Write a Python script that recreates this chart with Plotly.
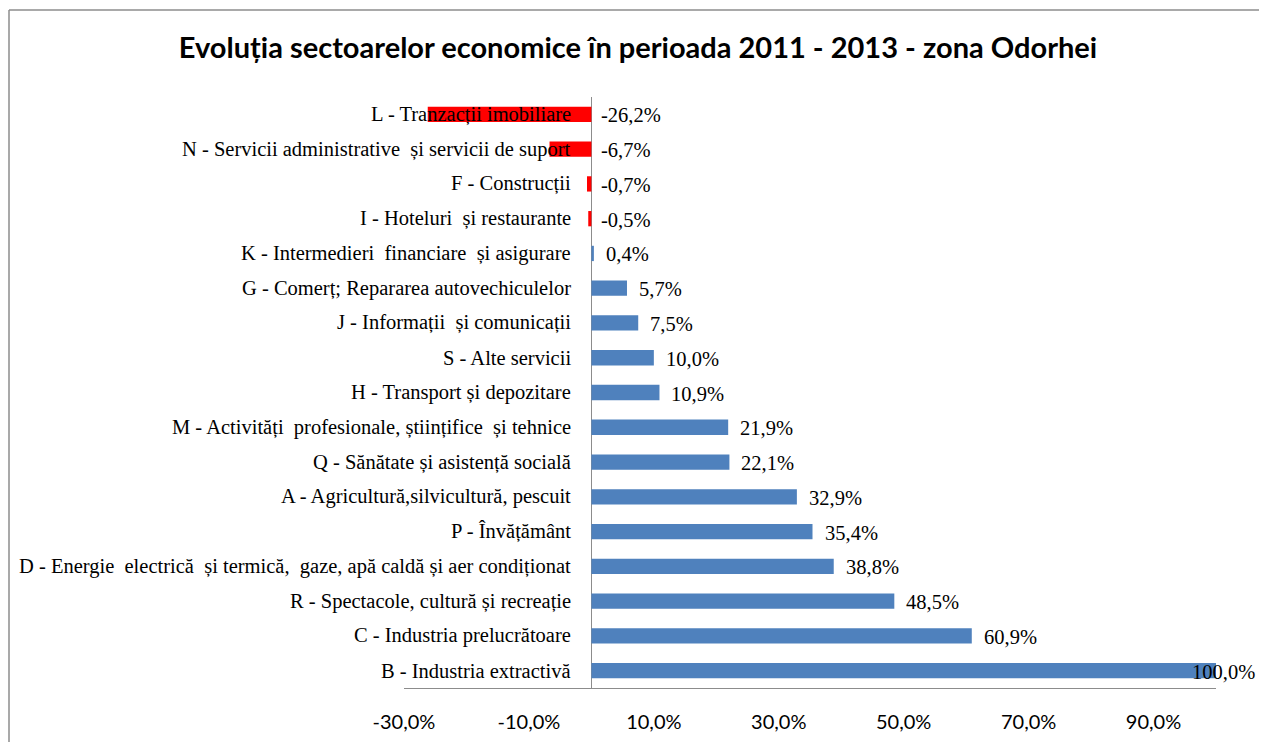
import plotly.graph_objects as go

# sectors, top to bottom as in the chart
sectors = [
    "L - Tranzacții imobiliare",
    "N - Servicii administrative  și servicii de suport",
    "F - Construcții",
    "I - Hoteluri  și restaurante",
    "K - Intermedieri  financiare  și asigurare",
    "G - Comerț; Repararea autovechiculelor",
    "J - Informații  și comunicații",
    "S - Alte servicii",
    "H - Transport și depozitare",
    "M - Activități  profesionale, științifice  și tehnice",
    "Q - Sănătate și asistență socială",
    "A - Agricultură,silvicultură, pescuit",
    "P - Învățământ",
    "D - Energie  electrică  și termică,  gaze, apă caldă și aer condiționat",
    "R - Spectacole, cultură și recreație",
    "C - Industria prelucrătoare",
    "B - Industria extractivă",
]
change_pct = [-26.2, -6.7, -0.7, -0.5, 0.4, 5.7, 7.5, 10.0, 10.9,
              21.9, 22.1, 32.9, 35.4, 38.8, 48.5, 60.9, 100.0]
tick_vals = [-30, -10, 10, 30, 50, 70, 90]
tick_text = ["-30,0%", "-10,0%", "10,0%", "30,0%", "50,0%", "70,0%", "90,0%"]

BLUE = "#4F81BD"
RED = "#FF0000"
GREY = "#8C8C8C"
SERIF = "Liberation Serif"
SANS = "Lato"

# the page body adds an 8px offset on the left/top
W, H = 1267, 734
L_M, R_M, T_M, B_M = 396, 59, 89, 54
PLOT_W = W - L_M - R_M
PLOT_H = H - T_M - B_M


def fmt(v):
    return f"{v:.1f}".replace(".", ",") + "%"


colors = [RED if v < 0 else BLUE for v in change_pct]

fig = go.Figure()
fig.add_trace(go.Bar(
    x=change_pct,
    y=sectors,
    orientation="h",
    width=0.44,
    marker=dict(color=colors, line=dict(width=0)),
    hoverinfo="skip",
))

annotations = []
for name, v in zip(sectors, change_pct):
    # category label sits just left of the zero line
    annotations.append(dict(
        x=0, y=name, xref="x", yref="y", text=name, showarrow=False,
        xanchor="right", xshift=-18, font=dict(family=SERIF, size=20.5, color="black"),
    ))
    # value label right of the bar end; the full-scale bar gets its label
    # pulled back over the bar end so it stays inside the picture
    if v < 0:
        anchor, shift = "left", 8
    elif v > 95:
        anchor, shift = "right", 41
    else:
        anchor, shift = "left", 10
    annotations.append(dict(
        x=max(v, 0), y=name, xref="x", yref="y", text=fmt(v), showarrow=False,
        xanchor=anchor, xshift=shift, yshift=-1,
        font=dict(family=SERIF, size=20.5, color="black"),
    ))

# chart frame: only the left and top edges fall inside the picture
left_x = (1 - L_M) / PLOT_W
top_y = 1 + (T_M - 2) / PLOT_H
frame = [
    dict(type="line", xref="paper", yref="paper", x0=left_x, x1=left_x,
         y0=-0.2, y1=top_y, line=dict(color=GREY, width=1.5)),
    dict(type="line", xref="paper", yref="paper", x0=left_x, x1=1.2,
         y0=top_y, y1=top_y, line=dict(color=GREY, width=1.5)),
]

fig.update_layout(
    width=W,
    height=H,
    margin=dict(l=L_M, r=R_M, t=T_M, b=B_M),
    paper_bgcolor="white",
    plot_bgcolor="white",
    showlegend=False,
    title=dict(
        text="<b>Evoluția sectoarelor economice în perioada 2011 - 2013 - zona Odorhei</b>",
        x=630 / W, xref="container", xanchor="center",
        y=1 - 40 / H, yref="container", yanchor="middle",
        font=dict(family=SANS, size=29, color="black"),
    ),
    xaxis=dict(
        range=[-30, 100],
        tickvals=tick_vals,
        ticktext=tick_text,
        showgrid=False,
        zeroline=True,
        zerolinecolor=GREY,
        zerolinewidth=1,
        showline=True,
        linecolor=GREY,
        linewidth=1,
        ticks="",
        ticklabelstandoff=16,
        automargin=False,
        tickfont=dict(family=SANS, size=20, color="black"),
        fixedrange=True,
    ),
    yaxis=dict(
        categoryorder="array",
        categoryarray=sectors,
        autorange="reversed",
        showticklabels=False,
        showgrid=False,
        zeroline=False,
        showline=False,
        automargin=False,
        fixedrange=True,
    ),
    annotations=annotations,
    shapes=frame,
)

fig.write_html("out.html")
